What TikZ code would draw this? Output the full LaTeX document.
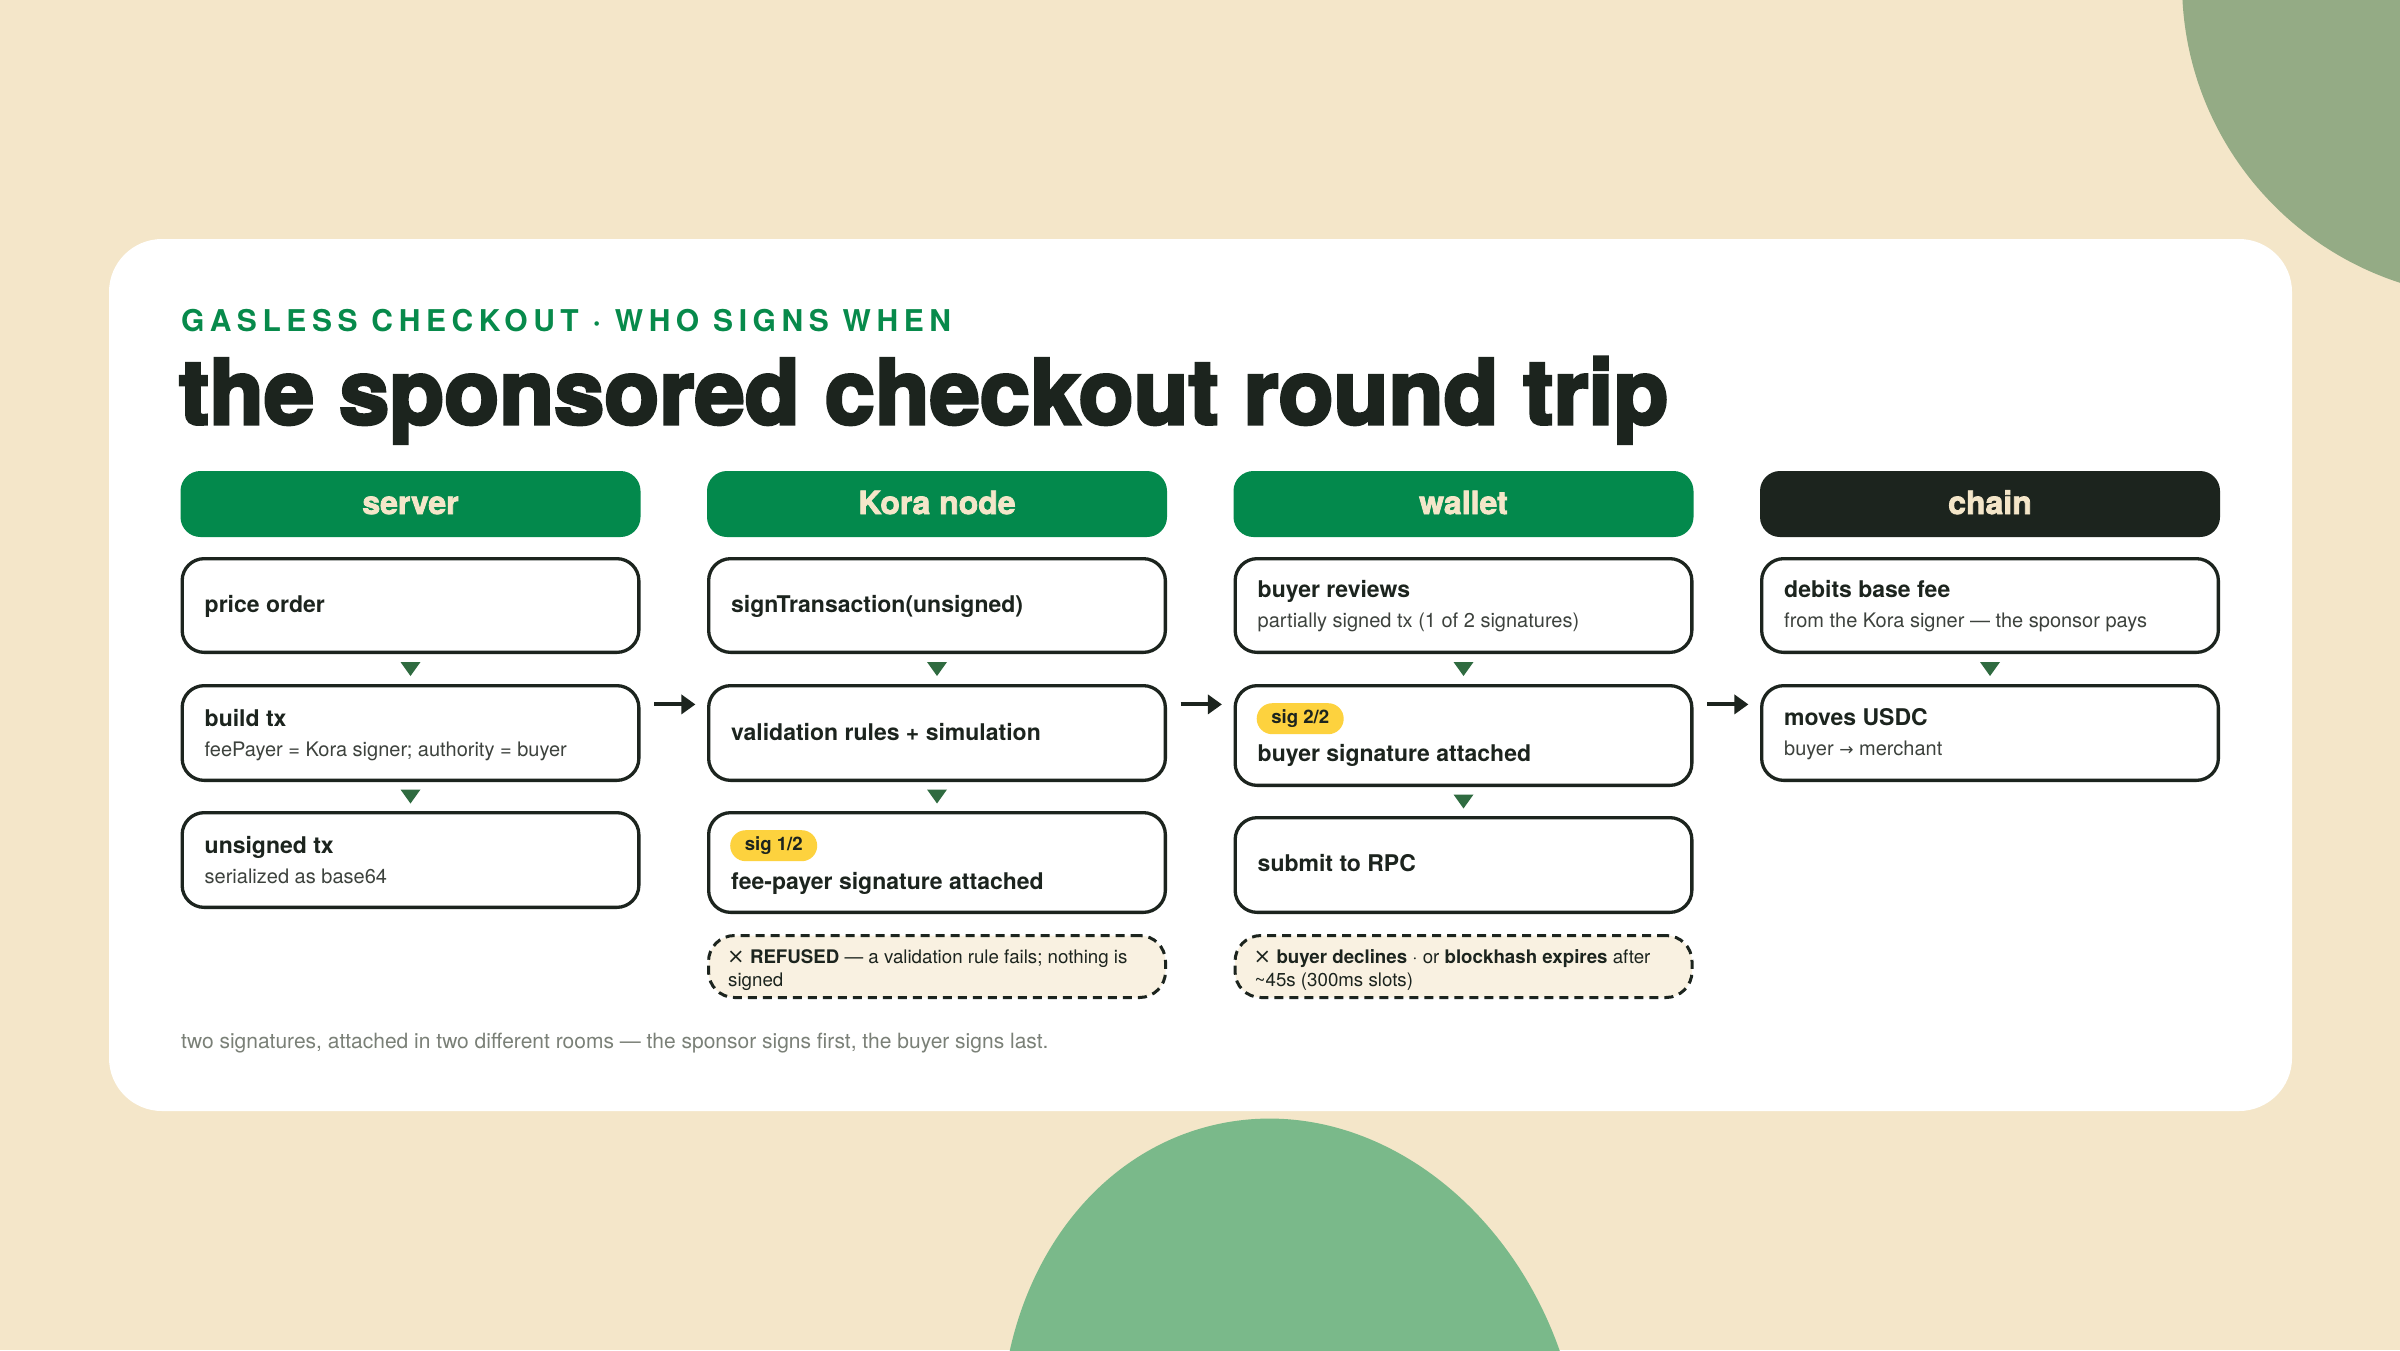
\documentclass[tikz,border=0pt]{standalone}
\usepackage{fontspec}
\setmainfont{TeX Gyre Heros}
\newfontfamily\heavy{TeX Gyre Heros}[BoldFeatures={FakeBold=3.5}]
\newfontfamily\hdrfont{TeX Gyre Heros}[BoldFeatures={FakeBold=2.5}]
\newfontfamily\spaced{TeX Gyre Heros}[LetterSpace=18.5]
\newfontfamily\djv{DejaVu Sans}
\usetikzlibrary{arrows.meta,calc}
\definecolor{bgcream}{HTML}{F4E6C9}
\definecolor{kgreen}{HTML}{03894C}
\definecolor{kdark}{HTML}{1C241E}
\definecolor{hdrtext}{HTML}{F4E6C9}
\definecolor{trifill}{HTML}{2F6B40}
\definecolor{badgey}{HTML}{FDD23E}
\definecolor{dashfill}{HTML}{F9F1E1}
\definecolor{subgreen}{HTML}{078A4B}
\definecolor{subtxt}{HTML}{3D423D}
\definecolor{foot}{HTML}{7A8077}
\definecolor{blobA}{HTML}{94AB85}
\definecolor{blobB}{HTML}{7AB98A}
\newcommand\downtri[1]{\fill[trifill] ($(#1)+(-10,-7)$) -- ++(20,0) -- ++(-10,14) -- cycle;}
\newcommand\crossmark{{\djv\fontsize{21}{23}\selectfont ×}}
\begin{document}
\begin{tikzpicture}[x=1pt,y=-1pt,
  hdr/.style={rounded corners=20pt, minimum width=460pt, minimum height=66pt, inner sep=0pt,
    text height=20pt, text depth=0pt, font=\hdrfont\bfseries\fontsize{32}{36}\selectfont, text=hdrtext},
  stepbox/.style={draw=kdark, line width=3.3pt, rounded corners=22pt, fill=white,
    minimum width=456.7pt, inner sep=0pt},
  failbox/.style={draw=kdark, line width=3pt, dash pattern=on 9pt off 6pt, rounded corners=26pt,
    fill=dashfill, minimum width=457pt, minimum height=62pt, inner sep=0pt},
  ttl/.style={anchor=base west, inner sep=0pt, text=kdark, font=\bfseries\fontsize{23}{27}\selectfont},
  sub/.style={anchor=base west, inner sep=0pt, text=subtxt, font=\fontsize{20}{24}\selectfont},
  note/.style={anchor=base west, inner sep=0pt, text=kdark, font=\fontsize{18.7}{23}\selectfont},
  badge/.style={anchor=north west, fill=badgey, rounded corners=15.5pt, minimum width=87pt,
    minimum height=31pt, inner sep=0pt, text=kdark, font=\bfseries\fontsize{18.6}{22}\selectfont},
  flowarrow/.style={draw=kdark, line width=4pt, -{Triangle[length=14pt,width=19pt]}}
]
\useasboundingbox (0,0) rectangle (2400,1350);
\fill[bgcream] (0,0) rectangle (2400,1350);
\begin{scope}
  \clip (0,0) rectangle (2400,1350);
  \fill[blobA] (2497,-17) circle[radius=315];
  \fill[blobB, rotate around={13:(1292,1460)}] (1292,1460) ellipse[x radius=288, y radius=344];
\end{scope}
\fill[white, rounded corners=53pt] (109,239) rectangle (2292,1111);

% headings
\node[anchor=base west, inner sep=0pt, text=subgreen, font=\spaced\bfseries\fontsize{30}{36}\selectfont] (kicker) at (181,331) {GASLESS CHECKOUT · WHO SIGNS WHEN};
\node[anchor=base west, inner sep=0pt, text=kdark, font=\heavy\bfseries\fontsize{90}{98}\selectfont] (title) at (179,424) {the sponsored checkout round trip};

% column headers
\node[hdr, fill=kgreen] (hs) at (410.5,504) {server};
\node[hdr, fill=kgreen] (hk) at (937,504) {Kora node};
\node[hdr, fill=kgreen] (hw) at (1463.5,504) {wallet};
\node[hdr, fill=kdark] (hc) at (1990,504) {chain};

% server column
\node[stepbox, minimum height=93.7pt] (s1) at (410.5,605.5) {};
\node[stepbox, minimum height=94.7pt] (s2) at (410.5,733) {};
\node[stepbox, minimum height=94.7pt] (s3) at (410.5,860) {};
\node[ttl] (s1a) at (204.5,612) {price order};
\node[ttl] (s2a) at (204.5,726) {build tx};
\node[sub] (s2b) at (204.5,756) {feePayer = Kora signer; authority = buyer};
\node[ttl] (s3a) at (204.5,853) {unsigned tx};
\node[sub] (s3b) at (204.5,883) {serialized as base64};

% Kora column
\node[stepbox, minimum height=93.7pt] (k1) at (937,605.5) {};
\node[stepbox, minimum height=94.7pt] (k2) at (937,733) {};
\node[stepbox, minimum height=99.7pt] (k3) at (937,862.5) {};
\node[failbox] (kx) at (937,966.5) {};
\node[ttl] (k1a) at (731,612) {signTransaction(unsigned)};
\node[ttl] (k2a) at (731,740) {validation rules + simulation};
\node[badge] (k3g) at (730,830) {sig 1/2};
\node[ttl] (k3a) at (731,889) {fee-payer signature attached};
\node[note] (kxa) at (727,963) {\crossmark\ \textbf{REFUSED} — a validation rule fails; nothing is};
\node[note] (kxb) at (728,986) {signed};

% wallet column
\node[stepbox, minimum height=93.7pt] (w1) at (1463.5,605.5) {};
\node[stepbox, minimum height=99.7pt] (w2) at (1463.5,735.5) {};
\node[stepbox, minimum height=94.7pt] (w3) at (1463.5,865) {};
\node[failbox] (wx) at (1463.5,966.5) {};
\node[ttl] (w1a) at (1257.5,597) {buyer reviews};
\node[sub] (w1b) at (1257.5,627) {partially signed tx (1 of 2 signatures)};
\node[badge] (w2g) at (1256.5,703) {sig 2/2};
\node[ttl] (w2a) at (1257.5,761) {buyer signature attached};
\node[ttl] (w3a) at (1257.5,871) {submit to RPC};
\node[note] (wxa) at (1253.5,963) {\crossmark\ \textbf{buyer declines} · or \textbf{blockhash expires} after};
\node[note] (wxb) at (1254.5,986) {\textasciitilde45s (300ms slots)};

% chain column
\node[stepbox, minimum height=93.7pt] (c1) at (1990,605.5) {};
\node[stepbox, minimum height=94.7pt] (c2) at (1990,733) {};
\node[ttl] (c1a) at (1784,597) {debits base fee};
\node[sub] (c1b) at (1784,627) {from the Kora signer — the sponsor pays};
\node[ttl] (c2a) at (1784,725) {moves USDC};
\node[sub] (c2b) at (1784,755) {buyer {\djv\fontsize{17}{20}\selectfont →} merchant};

% down triangles
\coordinate (t1) at ($(s1.south)!0.5!(s2.north)$);
\coordinate (t2) at ($(s2.south)!0.5!(s3.north)$);
\coordinate (t3) at ($(k1.south)!0.5!(k2.north)$);
\coordinate (t4) at ($(k2.south)!0.5!(k3.north)$);
\coordinate (t5) at ($(w1.south)!0.5!(w2.north)$);
\coordinate (t6) at ($(w2.south)!0.5!(w3.north)$);
\coordinate (t7) at ($(c1.south)!0.5!(c2.north)$);
\downtri{t1}\downtri{t2}\downtri{t3}\downtri{t4}\downtri{t5}\downtri{t6}\downtri{t7}

% hand-off arrows
\draw[flowarrow] ($(s2.north east)+(13.6,20.4)$) -- ($(k2.north west)+(-11.6,20.4)$);
\draw[flowarrow] ($(k2.north east)+(13.6,20.4)$) -- ($(w2.north west)+(-11.6,20.4)$);
\draw[flowarrow] ($(w2.north east)+(13.6,20.4)$) -- ($(c2.north west)+(-11.6,20.4)$);

% footer
\node[anchor=base west, inner sep=0pt, text=foot, font=\fontsize{21}{25}\selectfont] (foot) at (181,1048) {two signatures, attached in two different rooms — the sponsor signs first, the buyer signs last.};
\end{tikzpicture}
\end{document}
